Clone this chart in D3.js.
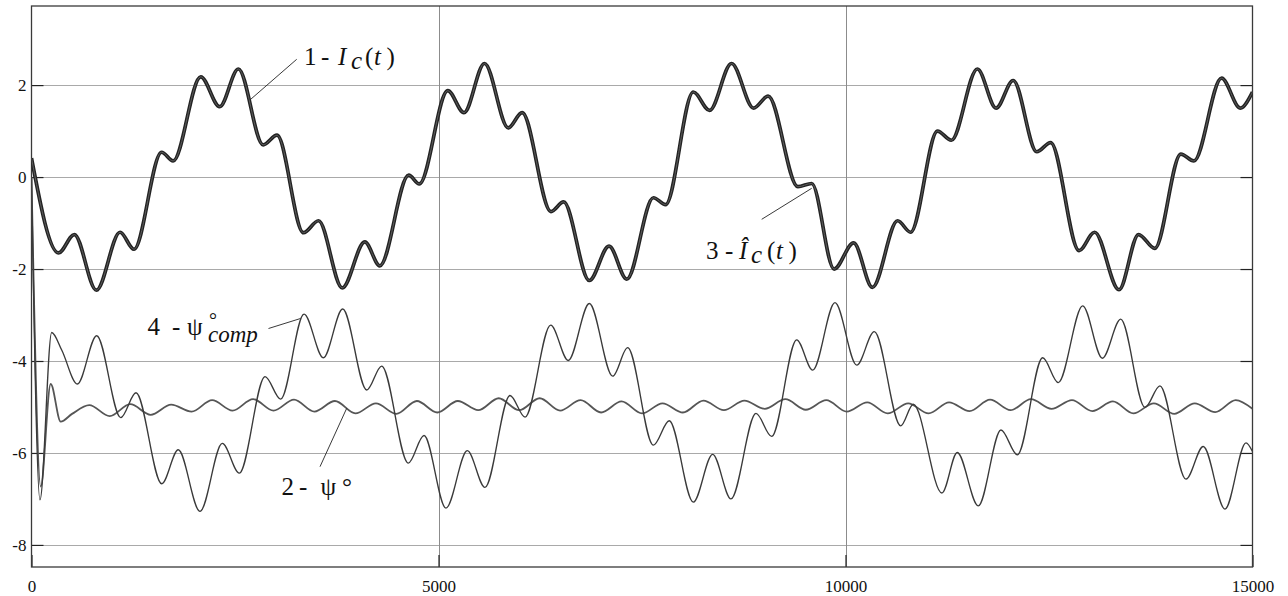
<!DOCTYPE html>
<html><head><meta charset="utf-8">
<script src="https://cdn.jsdelivr.net/npm/d3@7"></script>
<style>
html,body{margin:0;padding:0;background:#fff;}
svg{display:block;}
svg text{font-family:"Liberation Serif","Times New Roman","DejaVu Serif",serif !important;fill:#111;}
</style></head><body>
<svg id="chart" width="1288" height="596"></svg>
<script>
// Axis ticks
const xTicks = [0, 5000, 10000, 15000];
const yTicks = [2, 0, -2, -4, -6, -8];

// Curve 1 / 3: current I_c(t) and its estimate (coincide) -- [t, value]
const icPoints = [
  [0,0.41],[332,-1.65],[526,-1.25],[797,-2.46],[1088,-1.2],[1259,-1.57],[1598,0.54],[1740,0.35],
  [2079,2.18],[2312,1.53],[2541,2.35],[2846,0.70],[3016,0.91],[3341,-1.21],[3526,-0.95],[3818,-2.41],
  [4095,-1.41],[4279,-1.93],[4634,0.04],[4764,-0.15],[5114,1.88],[5313,1.4],[5565,2.47],[5857,1.07],
  [6027,1.40],[6382,-0.75],[6537,-0.54],[6853,-2.25],[7095,-1.5],[7313,-2.22],[7640,-0.45],[7790,-0.6],
  [8130,1.85],[8330,1.45],[8600,2.47],[8870,1.5],[9050,1.76],[9415,-0.21],[9585,-0.14],[9860,-2.0],
  [10100,-1.43],[10330,-2.4],[10640,-0.95],[10800,-1.2],[11130,1.0],[11300,0.8],[11620,2.35],[11850,1.5],
  [12060,2.1],[12350,0.55],[12520,0.75],[12870,-1.6],[13060,-1.2],[13360,-2.45],[13600,-1.25],[13800,-1.55],
  [14120,0.5],[14280,0.35],[14620,2.15],[14850,1.5],[15000,1.85]
];
const icHatPoints = icPoints;

// Curve 2: psi
const psiPoints = [
  [0,0],[113,-6.73],[236,-4.5],[359,-5.32],[498,-5.15],
  [710,-4.96],[961,-5.20],[1213,-4.94],[1464,-5.17],[1716,-4.95],[1967,-5.10],[2219,-4.85],[2470,-5.08],
  [2722,-4.83],[2973,-5.08],[3225,-4.84],[3476,-5.10],[3728,-4.87],[3979,-5.14],[4231,-4.92],[4482,-5.15],
  [4734,-4.87],[4985,-5.12],[5237,-4.87],[5488,-5.07],[5740,-4.81],[5991,-5.07],[6243,-4.81],[6494,-5.08],
  [6746,-4.85],[6997,-5.12],[7249,-4.88],[7500,-5.14],[7752,-4.92],[8003,-5.12],[8255,-4.86],[8506,-5.07],
  [8758,-4.86],[9009,-5.04],[9261,-4.83],[9512,-5.06],[9764,-4.85],[10015,-5.10],[10267,-4.90],[10518,-5.14],
  [10770,-4.92],[11021,-5.14],[11273,-4.90],[11524,-5.09],[11776,-4.84],[12027,-5.07],[12279,-4.83],[12530,-5.04],
  [12782,-4.85],[13033,-5.09],[13285,-4.88],[13536,-5.14],[13788,-4.92],[14039,-5.15],[14291,-4.92],[14542,-5.11],
  [14794,-4.85],[15000,-5.04]
];

// Curve 4: compensated psi
const psiCompPoints = [
  [0,0],[104,-7.02],[248,-3.38],[371,-3.76],[563,-4.5],[801,-3.45],[1096,-5.23],[1284,-4.69],
  [1600,-6.67],[1803,-5.93],[2070,-7.27],[2344,-5.79],[2553,-6.44],[2869,-4.34],[3061,-4.83],[3348,-2.98],
  [3585,-3.93],[3823,-2.87],[4118,-4.63],[4302,-4.11],[4629,-6.22],[4822,-5.62],[5092,-7.2],[5354,-5.95],
  [5571,-6.75],[5878,-4.75],[6063,-5.22],[6378,-3.22],[6594,-3.99],[6853,-2.75],[7140,-4.33],[7324,-3.71],
  [7639,-5.83],[7835,-5.3],[8130,-7.07],[8368,-6.03],[8593,-7.0],[8900,-5.14],[9093,-5.64],[9400,-3.54],
  [9597,-4.2],[9871,-2.73],[10138,-4.09],[10354,-3.36],[10678,-5.41],[10833,-4.94],[11185,-6.87],[11373,-5.99],
  [11631,-7.15],[11910,-5.5],[12111,-6.04],[12422,-3.93],[12614,-4.47],[12914,-2.8],[13155,-3.94],[13381,-3.09],
  [13679,-5.01],[13863,-4.54],[14183,-6.57],[14395,-5.86],[14662,-7.22],[14920,-5.78],[15000,-5.97]
];

const FONT = '"Liberation Serif", "Times New Roman", "DejaVu Serif", serif';
const svg = d3.select("#chart").style("font-family", FONT);
const L = 31.5, R = 1252.5, T = 6, B = 567;
const x = d3.scaleLinear().domain([0, 15000]).range([L, R]);
const y = d3.scaleLinear().domain([-8.48, 3.72]).range([B, T]);

svg.append("defs").append("clipPath").attr("id", "plot")
  .append("rect").attr("x", L).attr("y", T).attr("width", R - L).attr("height", B - T);

// grid
svg.append("g").selectAll("line").data(yTicks).join("line")
  .attr("x1", L).attr("x2", R)
  .attr("y1", d => Math.round(y(d)) + 0.5).attr("y2", d => Math.round(y(d)) + 0.5)
  .attr("stroke", "#a9a9a9").attr("stroke-width", 1);
svg.append("g").selectAll("line").data(xTicks.filter(d => d > 0 && d < 15000)).join("line")
  .attr("x1", d => Math.round(x(d)) + 0.5).attr("x2", d => Math.round(x(d)) + 0.5)
  .attr("y1", T).attr("y2", B)
  .attr("stroke", "#8c8c8c").attr("stroke-width", 1);

// axes
const fmt = d => d3.format("d")(d).replace("\u2212", "-");
const gl = svg.append("g").attr("transform", `translate(${L},0)`)
  .call(d3.axisLeft(y).tickValues(yTicks).tickSize(-12).tickPadding(5).tickFormat(fmt));
const gr = svg.append("g").attr("transform", `translate(${R},0)`)
  .call(d3.axisRight(y).tickValues(yTicks).tickSize(-12).tickFormat(""));
const gb = svg.append("g").attr("transform", `translate(0,${B})`)
  .call(d3.axisBottom(x).tickValues(xTicks).tickSize(-12).tickPadding(13).tickFormat(fmt));
[gl, gr, gb].forEach(g => {
  g.attr("font-family", FONT);
  g.select(".domain").remove();
  g.selectAll(".tick line").attr("stroke", "#222").attr("stroke-width", 1.2);
  g.selectAll("text").attr("font-size", 17).attr("fill", "#111").style("font-family", FONT);
});

// frame
svg.append("rect").attr("x", L).attr("y", T).attr("width", R - L).attr("height", B - T)
  .attr("fill", "none").attr("stroke", "#3a3a3a").attr("stroke-width", 1.3);

const line = d3.line().x(d => x(d[0])).y(d => y(d[1])).curve(d3.curveMonotoneX);
const plot = svg.append("g").attr("clip-path", "url(#plot)");

plot.append("path").datum(psiPoints).attr("d", line)
  .attr("fill", "none").attr("stroke", "#565656").attr("stroke-width", 1.8);
plot.append("path").datum(psiCompPoints).attr("d", line)
  .attr("fill", "none").attr("stroke", "#3a3a3a").attr("stroke-width", 1.35);
plot.append("path").datum(icPoints).attr("d", line)
  .attr("fill", "none").attr("stroke", "#232323").attr("stroke-width", 3.7);
plot.append("path").datum(icHatPoints).attr("d", line)
  .attr("fill", "none").attr("stroke", "#5e5e5e").attr("stroke-width", 1.0);

// leader lines
const leaders = [
  [296.7, 59.3, 250.7, 99.3],
  [761.7, 219.3, 811.7, 188.3],
  [268.5, 328.5, 300.5, 318.5],
  [320, 466.7, 346.7, 408.3]
];
svg.append("g").selectAll("line").data(leaders).join("line")
  .attr("x1", d => d[0]).attr("y1", d => d[1]).attr("x2", d => d[2]).attr("y2", d => d[3])
  .attr("stroke", "#222").attr("stroke-width", 0.9);

// curve labels: each piece placed at its own x
const lab = svg.append("g").attr("font-size", 25).attr("fill", "#111");
function label(parts, baseline) {
  const t = lab.append("text").attr("y", baseline).style("font-family", FONT);
  parts.forEach(p => {
    t.append("tspan")
      .attr("x", p.x)
      .attr("y", baseline + (p.dy || 0))
      .attr("font-style", p.it ? "italic" : null)
      .attr("font-size", p.fs || null)
      .text(p.s);
  });
}
label([
  {s: "1", x: 304}, {s: "-", x: 321}, {s: "I", x: 338, it: 1},
  {s: "c", x: 351, it: 1, dy: 4}, {s: "(", x: 365}, {s: "t", x: 374, it: 1}, {s: ")", x: 386.5}
], 65);
label([
  {s: "3", x: 706}, {s: "-", x: 725}, {s: "\u00CE", x: 739, it: 1},
  {s: "c", x: 751, it: 1, dy: 4}, {s: "(", x: 767}, {s: "t", x: 776, it: 1}, {s: ")", x: 788.5}
], 259);
label([
  {s: "4", x: 147.5}, {s: "-", x: 172}, {s: "\u03C8", x: 187},
  {s: "\u00B0", x: 209, fs: 20, dy: -8}, {s: "comp", x: 208, it: 1, fs: 23, dy: 7}
], 335);
label([
  {s: "2", x: 281.5}, {s: "-", x: 299}, {s: "\u03C8", x: 320.5}, {s: "\u00B0", x: 342}
], 495);
</script>
</body></html>
